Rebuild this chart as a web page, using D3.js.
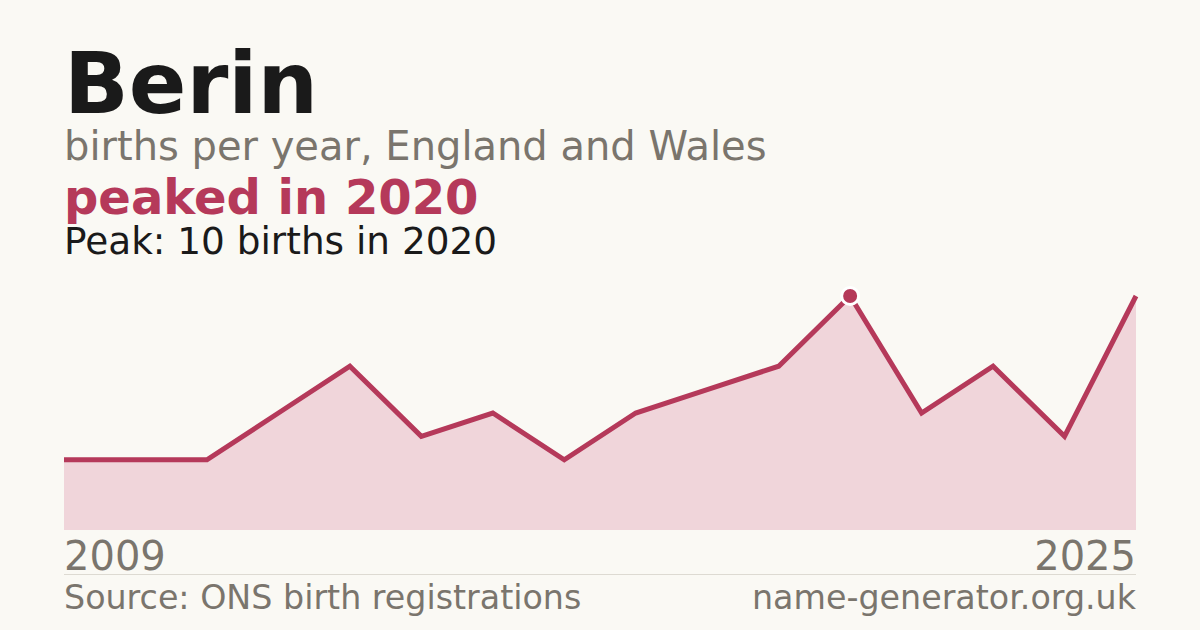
<!DOCTYPE html>
<html>
<head>
<meta charset="utf-8">
<script src="https://cdn.jsdelivr.net/npm/d3@7"></script>
<style>
  body { margin: 0; background: #faf9f4; }
  text { font-family: "DejaVu Sans", sans-serif; }
</style>
</head>
<body>
<div id="chart"></div>
<script>
// data
var years = [2009, 2010, 2011, 2012, 2013, 2014, 2015, 2016, 2017, 2018, 2019, 2020, 2021, 2022, 2023, 2025];
var births = [3, 3, 3, 5, 7, 4, 5, 3, 5, 6, 7, 10, 5, 7, 4, 10];
var axisLabels = ["2009", "2025"];

var W = 1200, H = 630;
var margin = { left: 64, right: 64, top: 296, bottom: 100 };

var svg = d3
  .select("#chart")
  .append("svg")
  .attr("width", W)
  .attr("height", H);

svg.append("rect").attr("width", W).attr("height", H).attr("fill", "#faf9f4");

var x = d3.scalePoint().domain(years).range([margin.left, W - margin.right]);
var y = d3.scaleLinear().domain([0, d3.max(births)]).range([H - margin.bottom, margin.top]);

var pts = years.map(function (d, i) {
  return { year: d, v: births[i] };
});

// area + line
var area = d3
  .area()
  .x(function (d) { return x(d.year); })
  .y0(y(0))
  .y1(function (d) { return y(d.v); });

var line = d3
  .line()
  .x(function (d) { return x(d.year); })
  .y(function (d) { return y(d.v); });

svg.append("path").datum(pts).attr("d", area).attr("fill", "#f0d5da");
svg
  .append("path")
  .datum(pts)
  .attr("d", line)
  .attr("fill", "none")
  .attr("stroke", "#b5395a")
  .attr("stroke-width", 5)
  .attr("stroke-linejoin", "miter");

// peak marker
var peak = pts[d3.maxIndex(births)];
svg
  .append("circle")
  .attr("cx", x(peak.year))
  .attr("cy", y(peak.v))
  .attr("r", 8.5)
  .attr("fill", "#b5395a")
  .attr("stroke", "#ffffff")
  .attr("stroke-width", 3);

// titles
svg.append("text").attr("x", 64).attr("y", 113)
  .attr("font-size", 85).attr("font-weight", "bold").attr("fill", "#1a1a1a")
  .text("Berin");
svg.append("text").attr("x", 64).attr("y", 160)
  .attr("font-size", 40).attr("fill", "#7a756d")
  .text("births per year, England and Wales");
svg.append("text").attr("x", 64).attr("y", 214)
  .attr("font-size", 48).attr("font-weight", "bold").attr("fill", "#b5395a")
  .text("peaked in " + peak.year);
svg.append("text").attr("x", 64).attr("y", 254)
  .attr("font-size", 37.4).attr("fill", "#1a1a1a")
  .text("Peak: " + peak.v + " births in " + peak.year);

// x labels
svg.append("text").attr("x", x(years[0])).attr("y", 570)
  .attr("font-size", 40).attr("fill", "#7a756d")
  .text(axisLabels[0]);
svg.append("text").attr("x", x(years[years.length - 1])).attr("y", 570)
  .attr("font-size", 40).attr("fill", "#7a756d").attr("text-anchor", "end")
  .text(axisLabels[1]);

// footer
svg.append("line").attr("x1", 64).attr("x2", W - 64).attr("y1", 574.5).attr("y2", 574.5)
  .attr("stroke", "#dddad2").attr("stroke-width", 1);
svg.append("text").attr("x", 64).attr("y", 609)
  .attr("font-size", 33.3).attr("fill", "#7a756d")
  .text("Source: ONS birth registrations");
svg.append("text").attr("x", W - 64).attr("y", 609)
  .attr("font-size", 33.3).attr("fill", "#7a756d").attr("text-anchor", "end")
  .text("name-generator.org.uk");
</script>
</body>
</html>
